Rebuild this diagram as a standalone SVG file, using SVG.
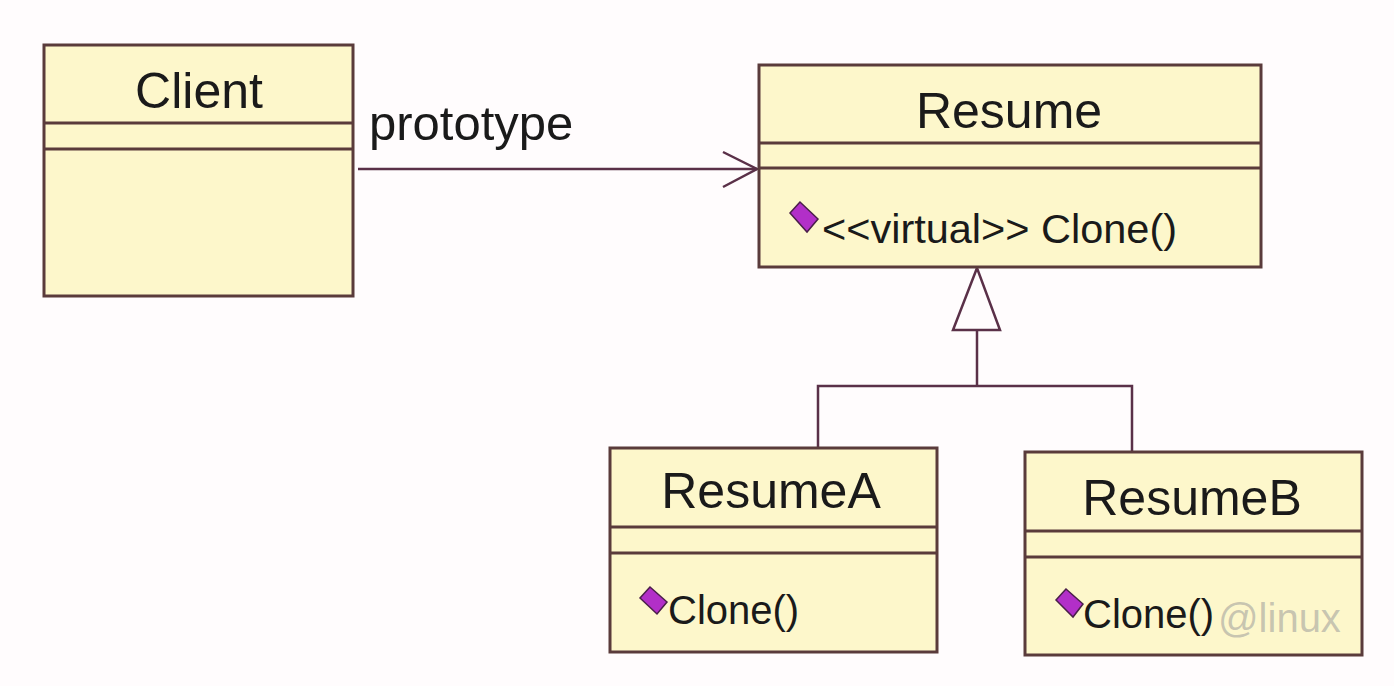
<svg xmlns="http://www.w3.org/2000/svg" width="1394" height="686" viewBox="0 0 1394 686">
<style>
.box{fill:#fdf7cb;stroke:#5a3b3b;stroke-width:3}
.div{stroke:#5a3b3b;stroke-width:3}
.title{font-family:"Liberation Sans",Arial,sans-serif;font-size:50px;fill:#1a1a1a;text-anchor:middle}
.op{font-family:"Liberation Sans",Arial,sans-serif;font-size:40px;fill:#1a1a1a}
.lbl{font-family:"Liberation Sans",Arial,sans-serif;font-size:49px;fill:#1a1a1a}
.conn{fill:none;stroke:#5a3048;stroke-width:2.5}
.icon{fill:#b22fc8;stroke:#4a1f4a;stroke-width:1.5}
.wm{font-family:"Liberation Sans","Noto Sans CJK SC",sans-serif;font-size:40px;fill:#9a9a9a;fill-opacity:0.55}
</style>
<rect width="1394" height="686" fill="#fffcfd"/>
<g id="connectors">
<line class="conn" x1="358" y1="169" x2="757" y2="169"/>
<polyline class="conn" points="723,152 757,169 723,187"/>
<text class="lbl" x="369" y="140">prototype</text>
<polygon class="conn" points="977,268 953,330 1000,330" fill="#ffffff"/>
<line class="conn" x1="977" y1="330" x2="977" y2="386"/>
<polyline class="conn" points="818,448 818,386 1132,386 1132,452"/>
</g>
<g id="client">
<rect class="box" x="44" y="45" width="309" height="251"/>
<line class="div" x1="44" y1="123" x2="353" y2="123"/>
<line class="div" x1="44" y1="149" x2="353" y2="149"/>
<text class="title" x="199" y="108">Client</text>
</g>
<g id="resume">
<rect class="box" x="759" y="65" width="502" height="202"/>
<line class="div" x1="759" y1="143" x2="1261" y2="143"/>
<line class="div" x1="759" y1="168" x2="1261" y2="168"/>
<text class="title" x="1009" y="128">Resume</text>
<polygon class="icon" points="800,202 790,213 807,232 818,219"/>
<text class="op" x="822" y="243" textLength="355" lengthAdjust="spacingAndGlyphs">&lt;&lt;virtual&gt;&gt; Clone()</text>
</g>
<g id="resumeA">
<rect class="box" x="610" y="448" width="327" height="204"/>
<line class="div" x1="610" y1="527" x2="937" y2="527"/>
<line class="div" x1="610" y1="553" x2="937" y2="553"/>
<text class="title" x="771" y="508">ResumeA</text>
<polygon class="icon" points="650,587 640,598 657,614 667,602"/>
<text class="op" x="668" y="624">Clone()</text>
</g>
<g id="resumeB">
<rect class="box" x="1025" y="452" width="337" height="203"/>
<line class="div" x1="1025" y1="531" x2="1362" y2="531"/>
<line class="div" x1="1025" y1="557" x2="1362" y2="557"/>
<text class="title" x="1192" y="515">ResumeB</text>
<polygon class="icon" points="1066,589 1056,600 1073,617 1083,604"/>
<text class="op" x="1083" y="628">Clone()</text>
<text class="wm" x="1218" y="632">@linux</text>
</g>
</svg>
